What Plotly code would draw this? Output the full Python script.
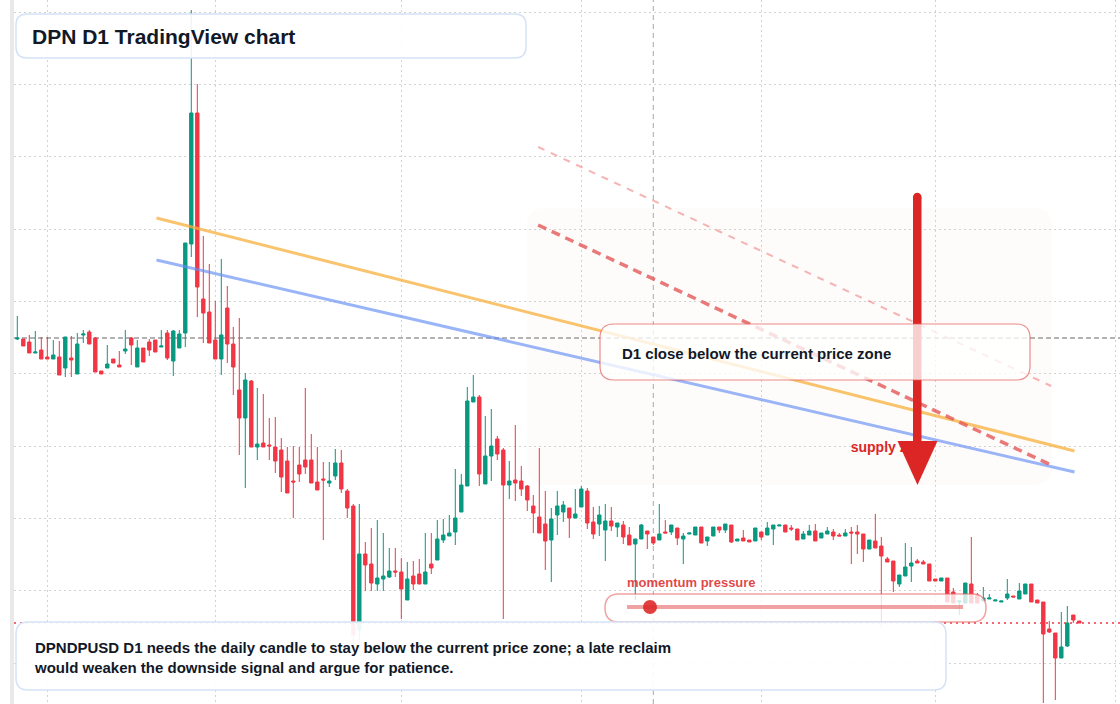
import plotly.graph_objects as go

# ---------------- data (daily DPN/USD candles) ----------------
opens = [
    0.0365, 0.0365, 0.0362, 0.0351, 0.0354, 0.0347, 0.0345, 0.0347, 0.0336, 0.0346,
    0.0330, 0.0369, 0.0372, 0.0366, 0.0333, 0.0336, 0.0345, 0.0339, 0.0353, 0.0366,
    0.0337, 0.0356, 0.0362, 0.0364, 0.0357, 0.0371, 0.0343, 0.0356, 0.0371, 0.0460,
    0.0591, 0.0405, 0.0392, 0.0364, 0.0345, 0.0396, 0.0360, 0.0314, 0.0286, 0.0323,
    0.0257, 0.0261, 0.0259, 0.0257, 0.0254, 0.0243, 0.0223, 0.0239, 0.0244, 0.0244,
    0.0222, 0.0225, 0.0221, 0.0228, 0.0241, 0.0213, 0.0198, 0.0074, 0.0150, 0.0140,
    0.0120, 0.0125, 0.0127, 0.0133, 0.0132, 0.0104, 0.0128, 0.0130, 0.0120, 0.0140,
    0.0144, 0.0164, 0.0168, 0.0172, 0.0192, 0.0218, 0.0302, 0.0307, 0.0220, 0.0248,
    0.0265, 0.0254, 0.0219, 0.0224, 0.0223, 0.0218, 0.0198, 0.0187, 0.0180, 0.0164,
    0.0189, 0.0192, 0.0196, 0.0186, 0.0197, 0.0213, 0.0182, 0.0180, 0.0174, 0.0183,
    0.0177, 0.0179, 0.0169, 0.0160, 0.0165, 0.0173, 0.0167, 0.0164, 0.0172, 0.0172,
    0.0176, 0.0165, 0.0170, 0.0169, 0.0177, 0.0163, 0.0168, 0.0177, 0.0174, 0.0179,
    0.0163, 0.0166, 0.0164, 0.0163, 0.0172, 0.0169, 0.0175, 0.0178, 0.0179, 0.0176,
    0.0175, 0.0165, 0.0169, 0.0173, 0.0166, 0.0170, 0.0172, 0.0169, 0.0168, 0.0172,
    0.0172, 0.0170, 0.0155, 0.0163, 0.0158, 0.0145, 0.0143, 0.0120, 0.0128, 0.0138,
    0.0143, 0.0142, 0.0140, 0.0125, 0.0123, 0.0126, 0.0112, 0.0102, 0.0101, 0.0120,
    0.0109, 0.0103, 0.0105, 0.0103, 0.0102, 0.0106, 0.0108, 0.0105, 0.0110, 0.0120,
    0.0104, 0.0102, 0.0075, 0.0071, 0.0046, 0.0058, 0.0089, 0.0083,
]
closes = [
    0.0366, 0.0358, 0.0351, 0.0352, 0.0345, 0.0345, 0.0349, 0.0329, 0.0367, 0.0344,
    0.0360, 0.0370, 0.0360, 0.0332, 0.0330, 0.0340, 0.0341, 0.0337, 0.0355, 0.0359,
    0.0356, 0.0342, 0.0354, 0.0352, 0.0358, 0.0346, 0.0373, 0.0370, 0.0461, 0.0591,
    0.0417, 0.0391, 0.0361, 0.0345, 0.0369, 0.0360, 0.0337, 0.0286, 0.0324, 0.0257,
    0.0260, 0.0257, 0.0258, 0.0243, 0.0227, 0.0211, 0.0222, 0.0230, 0.0237, 0.0221,
    0.0214, 0.0224, 0.0223, 0.0241, 0.0215, 0.0196, 0.0069, 0.0150, 0.0139, 0.0121,
    0.0126, 0.0128, 0.0133, 0.0132, 0.0115, 0.0125, 0.0120, 0.0120, 0.0132, 0.0136,
    0.0165, 0.0169, 0.0171, 0.0186, 0.0219, 0.0303, 0.0307, 0.0230, 0.0248, 0.0258,
    0.0250, 0.0219, 0.0223, 0.0221, 0.0215, 0.0204, 0.0191, 0.0171, 0.0163, 0.0185,
    0.0198, 0.0199, 0.0186, 0.0190, 0.0215, 0.0181, 0.0170, 0.0189, 0.0183, 0.0178,
    0.0181, 0.0167, 0.0159, 0.0165, 0.0179, 0.0170, 0.0161, 0.0170, 0.0171, 0.0179,
    0.0166, 0.0168, 0.0171, 0.0177, 0.0161, 0.0167, 0.0177, 0.0174, 0.0180, 0.0162,
    0.0165, 0.0163, 0.0162, 0.0176, 0.0167, 0.0176, 0.0179, 0.0179, 0.0172, 0.0175,
    0.0164, 0.0170, 0.0173, 0.0163, 0.0171, 0.0173, 0.0168, 0.0168, 0.0171, 0.0171,
    0.0170, 0.0155, 0.0164, 0.0156, 0.0148, 0.0142, 0.0123, 0.0129, 0.0137, 0.0141,
    0.0141, 0.0140, 0.0123, 0.0123, 0.0126, 0.0102, 0.0101, 0.0103, 0.0121, 0.0101,
    0.0101, 0.0106, 0.0106, 0.0104, 0.0103, 0.0110, 0.0107, 0.0113, 0.0120, 0.0102,
    0.0101, 0.0070, 0.0072, 0.0046, 0.0057, 0.0081, 0.0084, 0.0081,
]
highs = [
    0.0388, 0.0365, 0.0369, 0.0373, 0.0367, 0.0367, 0.0364, 0.0363, 0.0367, 0.0368,
    0.0371, 0.0374, 0.0374, 0.0367, 0.0333, 0.0359, 0.0345, 0.0353, 0.0374, 0.0367,
    0.0364, 0.0356, 0.0365, 0.0364, 0.0374, 0.0374, 0.0374, 0.0374, 0.0461, 0.0694,
    0.0620, 0.0468, 0.0440, 0.0403, 0.0445, 0.0418, 0.0377, 0.0386, 0.0331, 0.0324,
    0.0316, 0.0310, 0.0286, 0.0287, 0.0266, 0.0257, 0.0258, 0.0257, 0.0316, 0.0270,
    0.0257, 0.0242, 0.0242, 0.0255, 0.0254, 0.0215, 0.0200, 0.0200, 0.0162, 0.0176,
    0.0184, 0.0171, 0.0156, 0.0156, 0.0146, 0.0142, 0.0143, 0.0145, 0.0171, 0.0171,
    0.0184, 0.0185, 0.0189, 0.0235, 0.0230, 0.0317, 0.0329, 0.0309, 0.0288, 0.0295,
    0.0268, 0.0256, 0.0243, 0.0279, 0.0238, 0.0219, 0.0209, 0.0256, 0.0213, 0.0196,
    0.0213, 0.0203, 0.0196, 0.0215, 0.0218, 0.0216, 0.0197, 0.0198, 0.0200, 0.0197,
    0.0181, 0.0183, 0.0177, 0.0165, 0.0180, 0.0173, 0.0167, 0.0200, 0.0184, 0.0179,
    0.0176, 0.0171, 0.0171, 0.0177, 0.0177, 0.0167, 0.0177, 0.0177, 0.0180, 0.0179,
    0.0165, 0.0174, 0.0164, 0.0176, 0.0172, 0.0182, 0.0179, 0.0179, 0.0179, 0.0179,
    0.0175, 0.0173, 0.0179, 0.0180, 0.0171, 0.0177, 0.0175, 0.0171, 0.0175, 0.0177,
    0.0179, 0.0170, 0.0164, 0.0190, 0.0167, 0.0147, 0.0143, 0.0129, 0.0161, 0.0157,
    0.0145, 0.0144, 0.0140, 0.0125, 0.0126, 0.0126, 0.0116, 0.0104, 0.0121, 0.0167,
    0.0111, 0.0117, 0.0110, 0.0104, 0.0103, 0.0125, 0.0108, 0.0121, 0.0120, 0.0120,
    0.0104, 0.0102, 0.0083, 0.0071, 0.0092, 0.0098, 0.0089, 0.0083,
]
lows = [
    0.0364, 0.0358, 0.0351, 0.0351, 0.0345, 0.0345, 0.0345, 0.0329, 0.0327, 0.0327,
    0.0330, 0.0361, 0.0360, 0.0332, 0.0330, 0.0336, 0.0341, 0.0337, 0.0350, 0.0339,
    0.0337, 0.0342, 0.0348, 0.0352, 0.0357, 0.0344, 0.0328, 0.0356, 0.0357, 0.0447,
    0.0387, 0.0361, 0.0361, 0.0345, 0.0329, 0.0341, 0.0309, 0.0249, 0.0216, 0.0257,
    0.0244, 0.0257, 0.0244, 0.0231, 0.0212, 0.0211, 0.0186, 0.0222, 0.0230, 0.0221,
    0.0214, 0.0164, 0.0217, 0.0224, 0.0211, 0.0186, 0.0059, 0.0064, 0.0113, 0.0113,
    0.0113, 0.0113, 0.0126, 0.0127, 0.0085, 0.0104, 0.0114, 0.0120, 0.0120, 0.0130,
    0.0144, 0.0161, 0.0168, 0.0159, 0.0192, 0.0218, 0.0302, 0.0218, 0.0220, 0.0223,
    0.0244, 0.0085, 0.0205, 0.0203, 0.0208, 0.0193, 0.0171, 0.0171, 0.0134, 0.0122,
    0.0169, 0.0182, 0.0166, 0.0186, 0.0197, 0.0175, 0.0165, 0.0168, 0.0143, 0.0173,
    0.0167, 0.0160, 0.0159, 0.0104, 0.0165, 0.0155, 0.0159, 0.0164, 0.0171, 0.0169,
    0.0159, 0.0140, 0.0170, 0.0169, 0.0161, 0.0158, 0.0168, 0.0171, 0.0171, 0.0161,
    0.0163, 0.0163, 0.0162, 0.0163, 0.0164, 0.0169, 0.0159, 0.0178, 0.0172, 0.0173,
    0.0164, 0.0165, 0.0169, 0.0163, 0.0166, 0.0170, 0.0164, 0.0168, 0.0168, 0.0140,
    0.0150, 0.0142, 0.0155, 0.0156, 0.0076, 0.0142, 0.0112, 0.0117, 0.0128, 0.0122,
    0.0141, 0.0140, 0.0123, 0.0123, 0.0123, 0.0102, 0.0101, 0.0089, 0.0101, 0.0101,
    0.0101, 0.0103, 0.0105, 0.0103, 0.0102, 0.0104, 0.0107, 0.0105, 0.0110, 0.0102,
    0.0101, 0.0001, 0.0071, 0.0004, 0.0046, 0.0057, 0.0081, 0.0081,
]
days = list(range(len(opens)))

month_starts = [5.07, 33.07, 64.07, 94.07, 124.07, 153.0, 183.0]
price_grid_base = 0.0041
price_grid_step = 0.007233
current_zone_price = 0.0366
crosshair_day = 106

orange_trend_days = [23.2, 176.2]
orange_trend_prices = [0.0486, 0.0253]
blue_trend_days = [23.2, 176.2]
blue_trend_prices = [0.0444, 0.0232]
supply_upper_days = [86.8, 172.3]
supply_upper_prices = [0.0557, 0.0318]
supply_lower_days = [86.8, 172.3]
supply_lower_prices = [0.0479, 0.0239]
supply_label_day = [138.9]
supply_label_price = [0.0256]

title_text = "DPN D1 TradingView chart"
callout_text = "D1 close below the current price zone"
momentum_text = "momentum pressure"
supply_text = "supply zone"
note_lines = [
    "DPNDPUSD D1 needs the daily candle to stay below the current price zone; a late reclaim",
    "would weaken the downside signal and argue for patience.",
]

# ---------------- styling ----------------
UP = "#089981"
DOWN = "#F23645"
ARROW_RED = "#dc2626"
TEXT_DARK = "#111827"
FONT = "Liberation Sans, Arial, Helvetica, sans-serif"

W, H = 1120, 704
ML = 14
PW, PH = W - ML, H


def px(x):
    return (x - ML) / PW


def py(y):
    return 1 - y / PH


def rrect(x0, y0, x1, y1, r):
    pts = [
        ("M", [(x0 + r, y0)]),
        ("L", [(x1 - r, y0)]),
        ("Q", [(x1, y0), (x1, y0 + r)]),
        ("L", [(x1, y1 - r)]),
        ("Q", [(x1, y1), (x1 - r, y1)]),
        ("L", [(x0 + r, y1)]),
        ("Q", [(x0, y1), (x0, y1 - r)]),
        ("L", [(x0, y0 + r)]),
        ("Q", [(x0, y0), (x0 + r, y0)]),
    ]
    s = ""
    for cmd, ps in pts:
        s += cmd + " ".join(f"{px(a):.5f},{py(b):.5f}" for a, b in ps) + " "
    return s + "Z"


fig = go.Figure()

fig.add_trace(go.Candlestick(
    x=days, open=opens, high=highs, low=lows, close=closes,
    increasing=dict(line=dict(color=UP, width=1), fillcolor=UP),
    decreasing=dict(line=dict(color=DOWN, width=1), fillcolor=DOWN),
    whiskerwidth=0, showlegend=False, hoverinfo="skip",
))

fig.add_trace(go.Scatter(x=orange_trend_days, y=orange_trend_prices, mode="lines",
                         line=dict(color="rgba(247,176,60,0.75)", width=3),
                         hoverinfo="skip", showlegend=False))
fig.add_trace(go.Scatter(x=blue_trend_days, y=blue_trend_prices, mode="lines",
                         line=dict(color="rgba(100,142,242,0.65)", width=3),
                         hoverinfo="skip", showlegend=False))
fig.add_trace(go.Scatter(x=supply_upper_days, y=supply_upper_prices, mode="lines",
                         line=dict(color="rgba(238,130,130,0.6)", width=2, dash="7px,7px"),
                         hoverinfo="skip", showlegend=False))
fig.add_trace(go.Scatter(x=supply_lower_days, y=supply_lower_prices, mode="lines",
                         line=dict(color="rgba(228,88,88,0.8)", width=3.5, dash="9px,6px"),
                         hoverinfo="skip", showlegend=False))
fig.add_trace(go.Scatter(x=supply_label_day, y=supply_label_price, mode="text",
                         text=[f"<b>{supply_text}</b>"], textposition="middle right",
                         textfont=dict(color=ARROW_RED, size=14, family=FONT),
                         hoverinfo="skip", showlegend=False))

shapes = []
# faint zone
shapes.append(dict(type="path", xref="paper", yref="paper", layer="between",
                   path=rrect(527, 208, 1052, 485, 18),
                   fillcolor="rgba(245,215,195,0.07)", line=dict(width=0)))
# current price zone reference line
shapes.append(dict(type="line", xref="paper", yref="y", x0=0, x1=1,
                   y0=current_zone_price, y1=current_zone_price, layer="between",
                   line=dict(color="#9b9b9b", width=1.5, dash="5px,3px")))
# crosshair
shapes.append(dict(type="line", xref="x", yref="paper", x0=crosshair_day, x1=crosshair_day,
                   y0=0, y1=1, layer="between",
                   line=dict(color="#a8a8a8", width=1, dash="5px,4px")))
# last price line
shapes.append(dict(type="line", xref="paper", yref="y", x0=0, x1=1,
                   y0=closes[-1], y1=closes[-1], layer="between",
                   line=dict(color=DOWN, width=1.5, dash="2px,4px")))
# arrow
shapes.append(dict(type="rect", xref="paper", yref="paper", layer="above",
                   x0=px(913), x1=px(921.5), y0=py(197), y1=py(446),
                   fillcolor=ARROW_RED, line=dict(width=0)))
shapes.append(dict(type="circle", xref="paper", yref="paper", layer="above",
                   x0=px(913), x1=px(921.5), y0=py(192.7), y1=py(201.2),
                   fillcolor=ARROW_RED, line=dict(width=0)))
shapes.append(dict(type="path", xref="paper", yref="paper", layer="above",
                   path=f"M{px(897.5)},{py(441)} L{px(937.5)},{py(441)} L{px(917.5)},{py(485)} Z",
                   fillcolor=ARROW_RED, line=dict(width=0)))
# callout box
shapes.append(dict(type="path", xref="paper", yref="paper", layer="above",
                   path=rrect(600, 324, 1030, 380, 14),
                   fillcolor="rgba(255,255,255,0.78)",
                   line=dict(color="rgba(228,90,90,0.7)", width=1.2)))
# momentum pill
shapes.append(dict(type="path", xref="paper", yref="paper", layer="above",
                   path=rrect(605, 594, 986, 622, 14),
                   fillcolor="rgba(255,255,255,0.8)",
                   line=dict(color="rgba(232,100,100,0.6)", width=1.5)))
shapes.append(dict(type="line", xref="paper", yref="paper", layer="above",
                   x0=px(627), x1=px(963), y0=py(607), y1=py(607),
                   line=dict(color="rgba(232,110,110,0.65)", width=4)))
shapes.append(dict(type="circle", xref="paper", yref="paper", layer="above",
                   x0=px(643), x1=px(657), y0=py(600), y1=py(614),
                   fillcolor="rgba(220,38,38,0.88)", line=dict(width=0)))
# bottom note box
shapes.append(dict(type="path", xref="paper", yref="paper", layer="above",
                   path=rrect(16, 622, 946, 690, 12),
                   fillcolor="rgba(255,255,255,0.93)",
                   line=dict(color="#d5e3f7", width=1.5)))
# title box
shapes.append(dict(type="path", xref="paper", yref="paper", layer="above",
                   path=rrect(16, 14, 526, 58, 11),
                   fillcolor="rgba(255,255,255,0.9)",
                   line=dict(color="#d5e3f7", width=1.5)))
# left strip
shapes.append(dict(type="rect", xref="paper", yref="paper", layer="above",
                   x0=px(10), x1=px(14), y0=0, y1=1,
                   fillcolor="#e9e9e9", line=dict(width=0)))

annotations = [
    dict(xref="paper", yref="paper", x=px(30), y=py(36), xanchor="left", yanchor="middle",
         text=f"<b>{title_text}</b>", showarrow=False,
         font=dict(family=FONT, size=21, color=TEXT_DARK)),
    dict(xref="paper", yref="paper", x=px(620), y=py(353), xanchor="left", yanchor="middle",
         text=f"<b>{callout_text}</b>", showarrow=False,
         font=dict(family=FONT, size=15, color=TEXT_DARK)),
    dict(xref="paper", yref="paper", x=px(625), y=py(582), xanchor="left", yanchor="middle",
         text=f"<b>{momentum_text}</b>", showarrow=False,
         font=dict(family=FONT, size=13, color="rgba(220,38,38,0.85)")),
    dict(xref="paper", yref="paper", x=px(32), y=py(657), xanchor="left", yanchor="middle",
         text="<b>" + "<br>".join(note_lines) + "</b>", showarrow=False, align="left",
         font=dict(family=FONT, size=15, color=TEXT_DARK)),
]

fig.update_layout(
    width=W, height=H,
    margin=dict(l=ML, r=0, t=0, b=0, pad=0),
    paper_bgcolor="white", plot_bgcolor="white",
    showlegend=False,
    boxgap=0.2,
    shapes=shapes, annotations=annotations,
    xaxis=dict(range=[-0.55, 183.78], rangeslider=dict(visible=False),
               tickmode="array", tickvals=month_starts, showticklabels=False, ticks="",
               showgrid=True, gridcolor="#d2d2d2", griddash="2px,3px", gridwidth=1,
               zeroline=False, showline=False, fixedrange=True),
    yaxis=dict(range=[0, 0.0704], tickmode="linear", tick0=price_grid_base, dtick=price_grid_step,
               showticklabels=False, ticks="",
               showgrid=True, gridcolor="#d2d2d2", griddash="2px,3px", gridwidth=1,
               zeroline=False, showline=False, fixedrange=True),
    hovermode=False,
)

fig.write_html("out.html", config={"displayModeBar": False})
